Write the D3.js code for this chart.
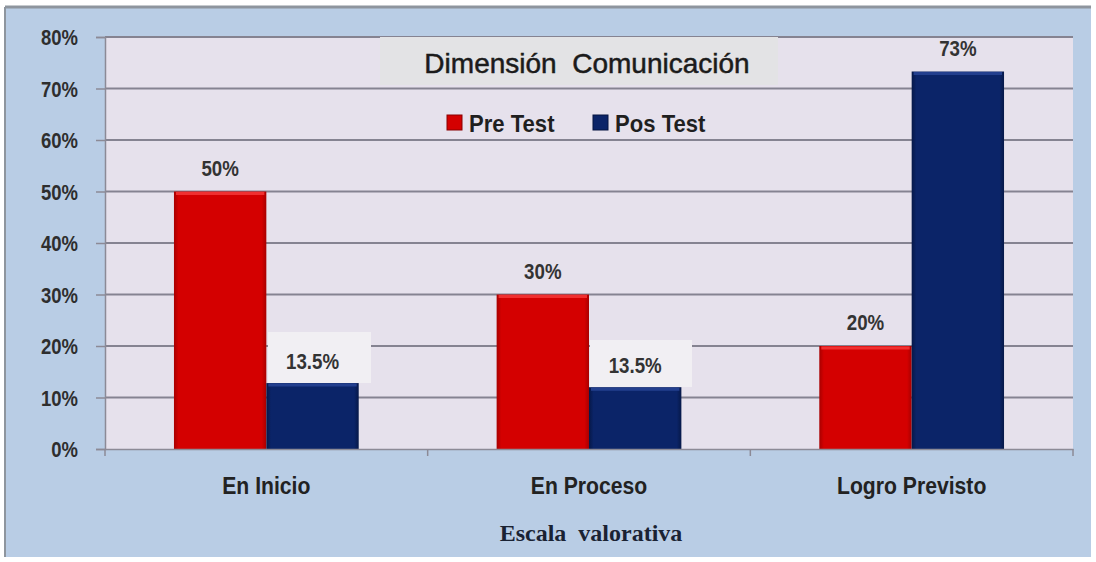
<!DOCTYPE html>
<html>
<head>
<meta charset="utf-8">
<script src="https://cdn.jsdelivr.net/npm/d3@7"></script>
<style>
  body { margin: 0; background: #fff; }
</style>
</head>
<body>
<script>
  // chart data
  const categories = ["En Inicio", "En Proceso", "Logro Previsto"];
  const series = ["Pre Test", "Pos Test"];
  const preTest = [50, 30, 20];
  const posTest = [12.8, 12, 73.3];
  const preLabels = ["50%", "30%", "20%"];
  const posLabels = ["13.5%", "13.5%", "73%"];
  const yTicks = [0, 10, 20, 30, 40, 50, 60, 70, 80];
  const colors = ["#d40000", "#0b2468"];

  const width = 1096, height = 562;
  const plot = { left: 105, right: 1073, top: 37, bottom: 449 };
  const sans = "Liberation Sans, Arial, sans-serif";

  const svg = d3.select("body").append("svg")
    .attr("width", width)
    .attr("height", height);

  // the original text is a bold, slightly narrow face: squeeze it with textLength.
  // The anchor is turned into a plain start position so the squeeze keeps it in place.
  function narrow(sel, factor) {
    sel.each(function () {
      const w = this.getComputedTextLength();
      const anchor = getComputedStyle(this).textAnchor;
      const x = +(this.getAttribute("x") || 0);
      const nw = w * factor;
      const start = anchor === "end" ? x - nw : anchor === "middle" ? x - nw / 2 : x;
      d3.select(this).attr("text-anchor", "start").attr("x", start)
        .attr("textLength", nw).attr("lengthAdjust", "spacingAndGlyphs");
    });
  }

  // gradients for a little bevel on the bars
  const defs = svg.append("defs");
  const grads = [["red", "#d40000", "#a80000"], ["blue", "#0b2468", "#061848"]];
  grads.forEach(([id, b, c]) => {
    const g = defs.append("linearGradient").attr("id", "g-" + id)
      .attr("x1", 0).attr("x2", 1).attr("y1", 0).attr("y2", 0);
    g.append("stop").attr("offset", "0%").attr("stop-color", c);
    g.append("stop").attr("offset", "5%").attr("stop-color", b);
    g.append("stop").attr("offset", "95%").attr("stop-color", b);
    g.append("stop").attr("offset", "100%").attr("stop-color", c);
  });

  // outer chart area
  svg.append("rect").attr("x", 5).attr("y", 7).attr("width", 1086).attr("height", 550)
    .attr("fill", "#b9cde5");
  svg.append("line").attr("x1", 5).attr("x2", 1091).attr("y1", 7).attr("y2", 7)
    .attr("stroke", "#8e959e").attr("stroke-width", 3);
  svg.append("line").attr("x1", 5).attr("x2", 5).attr("y1", 7).attr("y2", 557)
    .attr("stroke", "#8e959e").attr("stroke-width", 2);

  // plot area
  svg.append("rect").attr("x", plot.left).attr("y", plot.top)
    .attr("width", plot.right - plot.left).attr("height", plot.bottom - plot.top)
    .attr("fill", "#e6e1ec");

  const y = d3.scaleLinear().domain([0, 80]).range([plot.bottom, plot.top]);
  const x0 = d3.scaleBand().domain(categories).range([plot.left, plot.right]).paddingInner(0).paddingOuter(0);
  const x1 = d3.scaleBand().domain(series).range([0, x0.bandwidth()]).paddingInner(0).paddingOuter(0.7466);

  // gridlines
  svg.append("g").selectAll("line").data(yTicks.slice(1)).join("line")
    .attr("x1", plot.left).attr("x2", plot.right)
    .attr("y1", d => y(d)).attr("y2", d => y(d))
    .attr("stroke", "#858391").attr("stroke-width", 1.8);

  // y axis
  const yAxis = svg.append("g").attr("transform", `translate(${plot.left},0)`)
    .call(d3.axisLeft(y).tickValues(yTicks).tickFormat(d => d + "%").tickSize(9).tickPadding(18));
  yAxis.select(".domain").attr("stroke", "#8c8a96").attr("stroke-width", 1.5);
  yAxis.selectAll(".tick line").attr("stroke", "#8c8a96").attr("stroke-width", 1.5);
  yAxis.selectAll(".tick text").attr("font-size", 22).attr("font-weight", "bold").attr("fill", "#2e2e2e")
    .attr("dy", "0.36em").style("font-family", sans).call(narrow, 0.84);

  // title box
  svg.append("rect").attr("x", 380).attr("y", 37).attr("width", 398).attr("height", 48).attr("fill", "#e3e3e5");
  svg.append("text").attr("x", 587).attr("y", 73).attr("text-anchor", "middle")
    .attr("font-size", 28).attr("fill", "#1b1b1b").style("white-space", "pre").style("font-family", sans)
    .style("paint-order", "stroke").attr("stroke", "#1b1b1b").attr("stroke-width", 0.5)
    .text("Dimensión  Comunicación").call(narrow, 1.0);

  // legend
  const legend = svg.append("g");
  const legendX = [447, 593];
  series.forEach((s, i) => {
    legend.append("rect").attr("x", legendX[i]).attr("y", 115).attr("width", 15).attr("height", 15)
      .attr("fill", colors[i]).attr("stroke", i === 0 ? "#8a0000" : "#051440").attr("stroke-width", 1);
    legend.append("text").attr("x", legendX[i] + 22).attr("y", 132)
      .attr("font-size", 24).attr("font-weight", "bold").attr("fill", "#1f1f1f").style("font-family", sans)
      .text(s).call(narrow, 0.92);
  });

  // label boxes behind the 13.5% labels
  const posBox = [[268, 332, 103, 51], [590, 340, 102, 47]];
  posBox.forEach(b => svg.append("rect").attr("x", b[0]).attr("y", b[1]).attr("width", b[2]).attr("height", b[3])
    .attr("fill", "#f1eff3"));

  // bars
  const rows = categories.map((c, i) => ({ cat: c, values: [preTest[i], posTest[i]], labels: [preLabels[i], posLabels[i]] }));
  const groups = svg.append("g").selectAll("g").data(rows).join("g")
    .attr("transform", d => `translate(${x0(d.cat)},0)`);

  groups.selectAll("rect").data(d => d.values.map((v, i) => ({ s: series[i], v, i }))).join("rect")
    .attr("x", d => x1(d.s)).attr("width", x1.bandwidth())
    .attr("y", d => y(d.v)).attr("height", d => y(0) - y(d.v))
    .attr("fill", d => d.i === 0 ? "url(#g-red)" : "url(#g-blue)");

  // top highlight of bars
  groups.selectAll("line.hl").data(d => d.values.map((v, i) => ({ s: series[i], v, i }))).join("line")
    .attr("class", "hl")
    .attr("x1", d => x1(d.s) + 2).attr("x2", d => x1(d.s) + x1.bandwidth() - 2)
    .attr("y1", d => y(d.v) + 2).attr("y2", d => y(d.v) + 2)
    .attr("stroke", d => d.i === 0 ? "#f03030" : "#233f8e").attr("stroke-width", 3);

  // value labels
  groups.selectAll("text").data(d => d.labels.map((l, i) => ({ s: series[i], v: d.values[i], l }))).join("text")
    .attr("x", d => x1(d.s) + x1.bandwidth() / 2)
    .attr("y", d => d.v < 15 ? y(d.v) - 14 : y(d.v) - 16)
    .attr("text-anchor", "middle").attr("font-size", 22).attr("font-weight", "bold")
    .attr("fill", "#333").style("font-family", sans).text(d => d.l).call(narrow, 0.85);

  // x axis
  const xAxis = svg.append("g").attr("transform", `translate(0,${plot.bottom})`)
    .call(d3.axisBottom(x0).tickSize(0).tickPadding(33));
  xAxis.select(".domain").attr("stroke", "#8c8a96").attr("stroke-width", 1.5);
  xAxis.selectAll(".tick text").attr("font-size", 23).attr("font-weight", "bold").attr("fill", "#222")
    .attr("dy", "0.5em").style("font-family", sans).call(narrow, 0.92);
  // category boundary ticks
  svg.append("g").selectAll("line").data(categories.map(c => x0(c)).concat([plot.right])).join("line")
    .attr("x1", d => d).attr("x2", d => d).attr("y1", plot.bottom).attr("y2", plot.bottom + 7)
    .attr("stroke", "#8c8a96").attr("stroke-width", 1.5);

  // axis title
  svg.append("text").attr("x", 591).attr("y", 541).attr("text-anchor", "middle")
    .style("font-family", "Liberation Serif, Times New Roman, serif").attr("font-weight", "bold")
    .attr("font-size", 24).attr("fill", "#1a2233").style("white-space", "pre")
    .text("Escala  valorativa");
</script>
</body>
</html>
